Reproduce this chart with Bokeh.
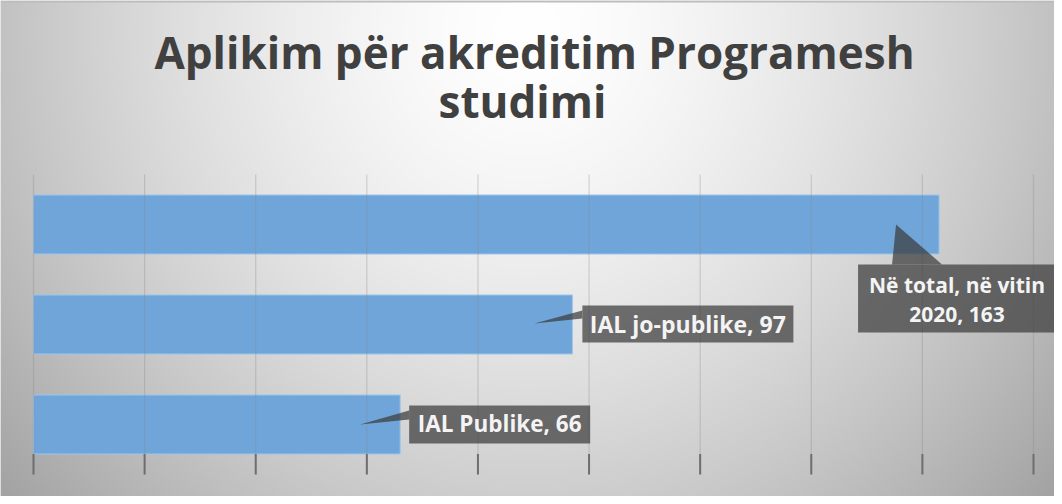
import numpy as np
from bokeh.plotting import figure
from bokeh.models import Range1d, ColumnDataSource
from bokeh.embed import file_html
from bokeh.resources import INLINE
from bokeh.core.properties import value

# ---------------- data ----------------
TITLE_LINES = ["Aplikim për akreditim Programesh", "studimi"]
categories = ["IAL Publike", "IAL jo-publike", "Në total, në vitin 2020"]  # bottom -> top
values = [66, 97, 163]
label_lines = [["IAL Publike, 66"], ["IAL jo-publike, 97"], ["Në total, në vitin", "2020, 163"]]
x_ticks = [0, 20, 40, 60, 80, 100, 120, 140, 160, 180]

# ---------------- layout ----------------
W, H = 1054, 496
K = 1000 / 180.0      # px per value unit
X0PX = 33             # px of value 0 from figure left
Y0PX = 424            # px of first category centre from figure top
CAT_PX = 100.0        # px per category
BAR_H = 0.59
TITLE_FS = 44
LABEL_FS = [22.5, 23, 21]
BL_FIX = 0.40         # baseline correction (fraction of font size)

def px_x(px):
    return (px - X0PX) / K

def px_y(py):
    return (Y0PX - py) / CAT_PX

idx = list(range(len(categories)))

p = figure(width=W, height=H, output_backend="svg", toolbar_location=None,
           x_range=Range1d(px_x(0), px_x(W)), y_range=Range1d(px_y(H), px_y(0)),
           min_border=0, min_border_left=0, min_border_right=0,
           min_border_top=0, min_border_bottom=0)
p.axis.visible = False
p.grid.visible = False
p.outline_line_color = None
p.border_fill_color = "#dcdcdc"
p.background_fill_color = "#e4e4e4"

# ---------------- gradient background ----------------
S = 2
hh, ww = H // S, W // S
cols = (np.arange(ww) + 0.5) * S
rows_from_top = H - (np.arange(hh) + 0.5) * S
PX, PY = np.meshgrid(cols, rows_from_top)
r = np.sqrt(((PX - 527) / 510.0) ** 2 + ((PY - 30) / 520.0) ** 2)
g = 255 - 58 * r ** 1.5
g = np.clip(g, 0, 255)
g[PY < 2] = 188
img = np.empty((hh, ww), dtype=np.uint32)
view = img.view(dtype=np.uint8).reshape((hh, ww, 4))
gi = g.astype(np.uint8)
view[:, :, 0] = gi
view[:, :, 1] = gi
view[:, :, 2] = gi
view[:, :, 3] = 255
p.image_rgba(image=[img], x=px_x(0), y=px_y(H), dw=W / K, dh=H / CAT_PX, level="image")

# ---------------- bars ----------------
src = ColumnDataSource(dict(y=idx, v=values, cat=categories))
p.hbar(y="y", left=0, right="v", height=BAR_H, source=src,
       fill_color="#6fa5d9", line_color="#9cc5ec", line_width=1)

# ---------------- vertical grid & ticks ----------------
y_lo = min(idx) - 0.5
y_hi = max(idx) + 0.5
p.segment(x0=x_ticks, x1=x_ticks, y0=[y_lo] * len(x_ticks), y1=[y_hi] * len(x_ticks),
          line_color="#8a8a8a", line_alpha=0.32, line_width=1.2)
p.segment(x0=x_ticks, x1=x_ticks, y0=[y_lo] * len(x_ticks),
          y1=[min(idx) - BAR_H / 2] * len(x_ticks),
          line_color="#6e6e6e", line_width=2)

# ---------------- callouts ----------------
# offsets in px relative to (bar end, category centre); dy positive downward
BOX = [(9, 190, -19, 19), (10, 221, -19, 18), (-81, 123, 40, 108)]
TIP = [(-40, 0), (-38, -1), (-43, 0)]
BASE = [((9, -14), (9, -5)), ((10, -14), (10, -6)), ((-47, 40), (3, 40))]
TXT = [(99.5, [8]), (115.5, [9]), (18, [69, 98])]

def dxy(i, dx, dy):
    return values[i] + dx / K, idx[i] - dy / CAT_PX

bx_l, bx_r, bx_t, bx_b = [], [], [], []
pxs, pys = [], []
for i in idx:
    l, rr, t, b = BOX[i]
    x1, y1 = dxy(i, l, t)
    x2, y2 = dxy(i, rr, b)
    bx_l.append(x1); bx_r.append(x2); bx_t.append(y1); bx_b.append(y2)
    (ax, ay), (bx, by) = BASE[i]
    tip = dxy(i, *TIP[i])
    pa = dxy(i, ax, ay)
    pb = dxy(i, bx, by)
    pxs.append([pa[0], tip[0], pb[0]])
    pys.append([pa[1], tip[1], pb[1]])

p.patches(xs=pxs, ys=pys, fill_color="#3b3b3b", fill_alpha=0.72, line_color=None)
p.quad(left=bx_l, right=bx_r, top=bx_t, bottom=bx_b,
       fill_color="#3b3b3b", fill_alpha=0.72, line_color=None)

for i in idx:
    cx, bls = TXT[i]
    fs = LABEL_FS[i]
    tx, ty = [], []
    for bl in bls:
        xx, yy = dxy(i, cx, bl - BL_FIX * fs)
        tx.append(xx); ty.append(yy)
    p.text(x=tx, y=ty, text=label_lines[i], text_align="center", text_baseline="alphabetic",
           text_font=value("Open Sans"), text_font_style="bold", text_font_size=f"{fs}px",
           text_color="#f4f4f4")

# ---------------- title ----------------
TITLE_POS = [(534, 69), (522, 118)]  # centre x, baseline y (figure px)
p.text(x=[px_x(a) for a, _ in TITLE_POS],
       y=[px_y(b - BL_FIX * TITLE_FS) for _, b in TITLE_POS], text=TITLE_LINES,
       text_align="center", text_baseline="alphabetic",
       text_font=value("Open Sans"), text_font_style="bold", text_font_size=f"{TITLE_FS}px",
       text_color="#404040")

open("out.html", "w").write(file_html(p, INLINE))
